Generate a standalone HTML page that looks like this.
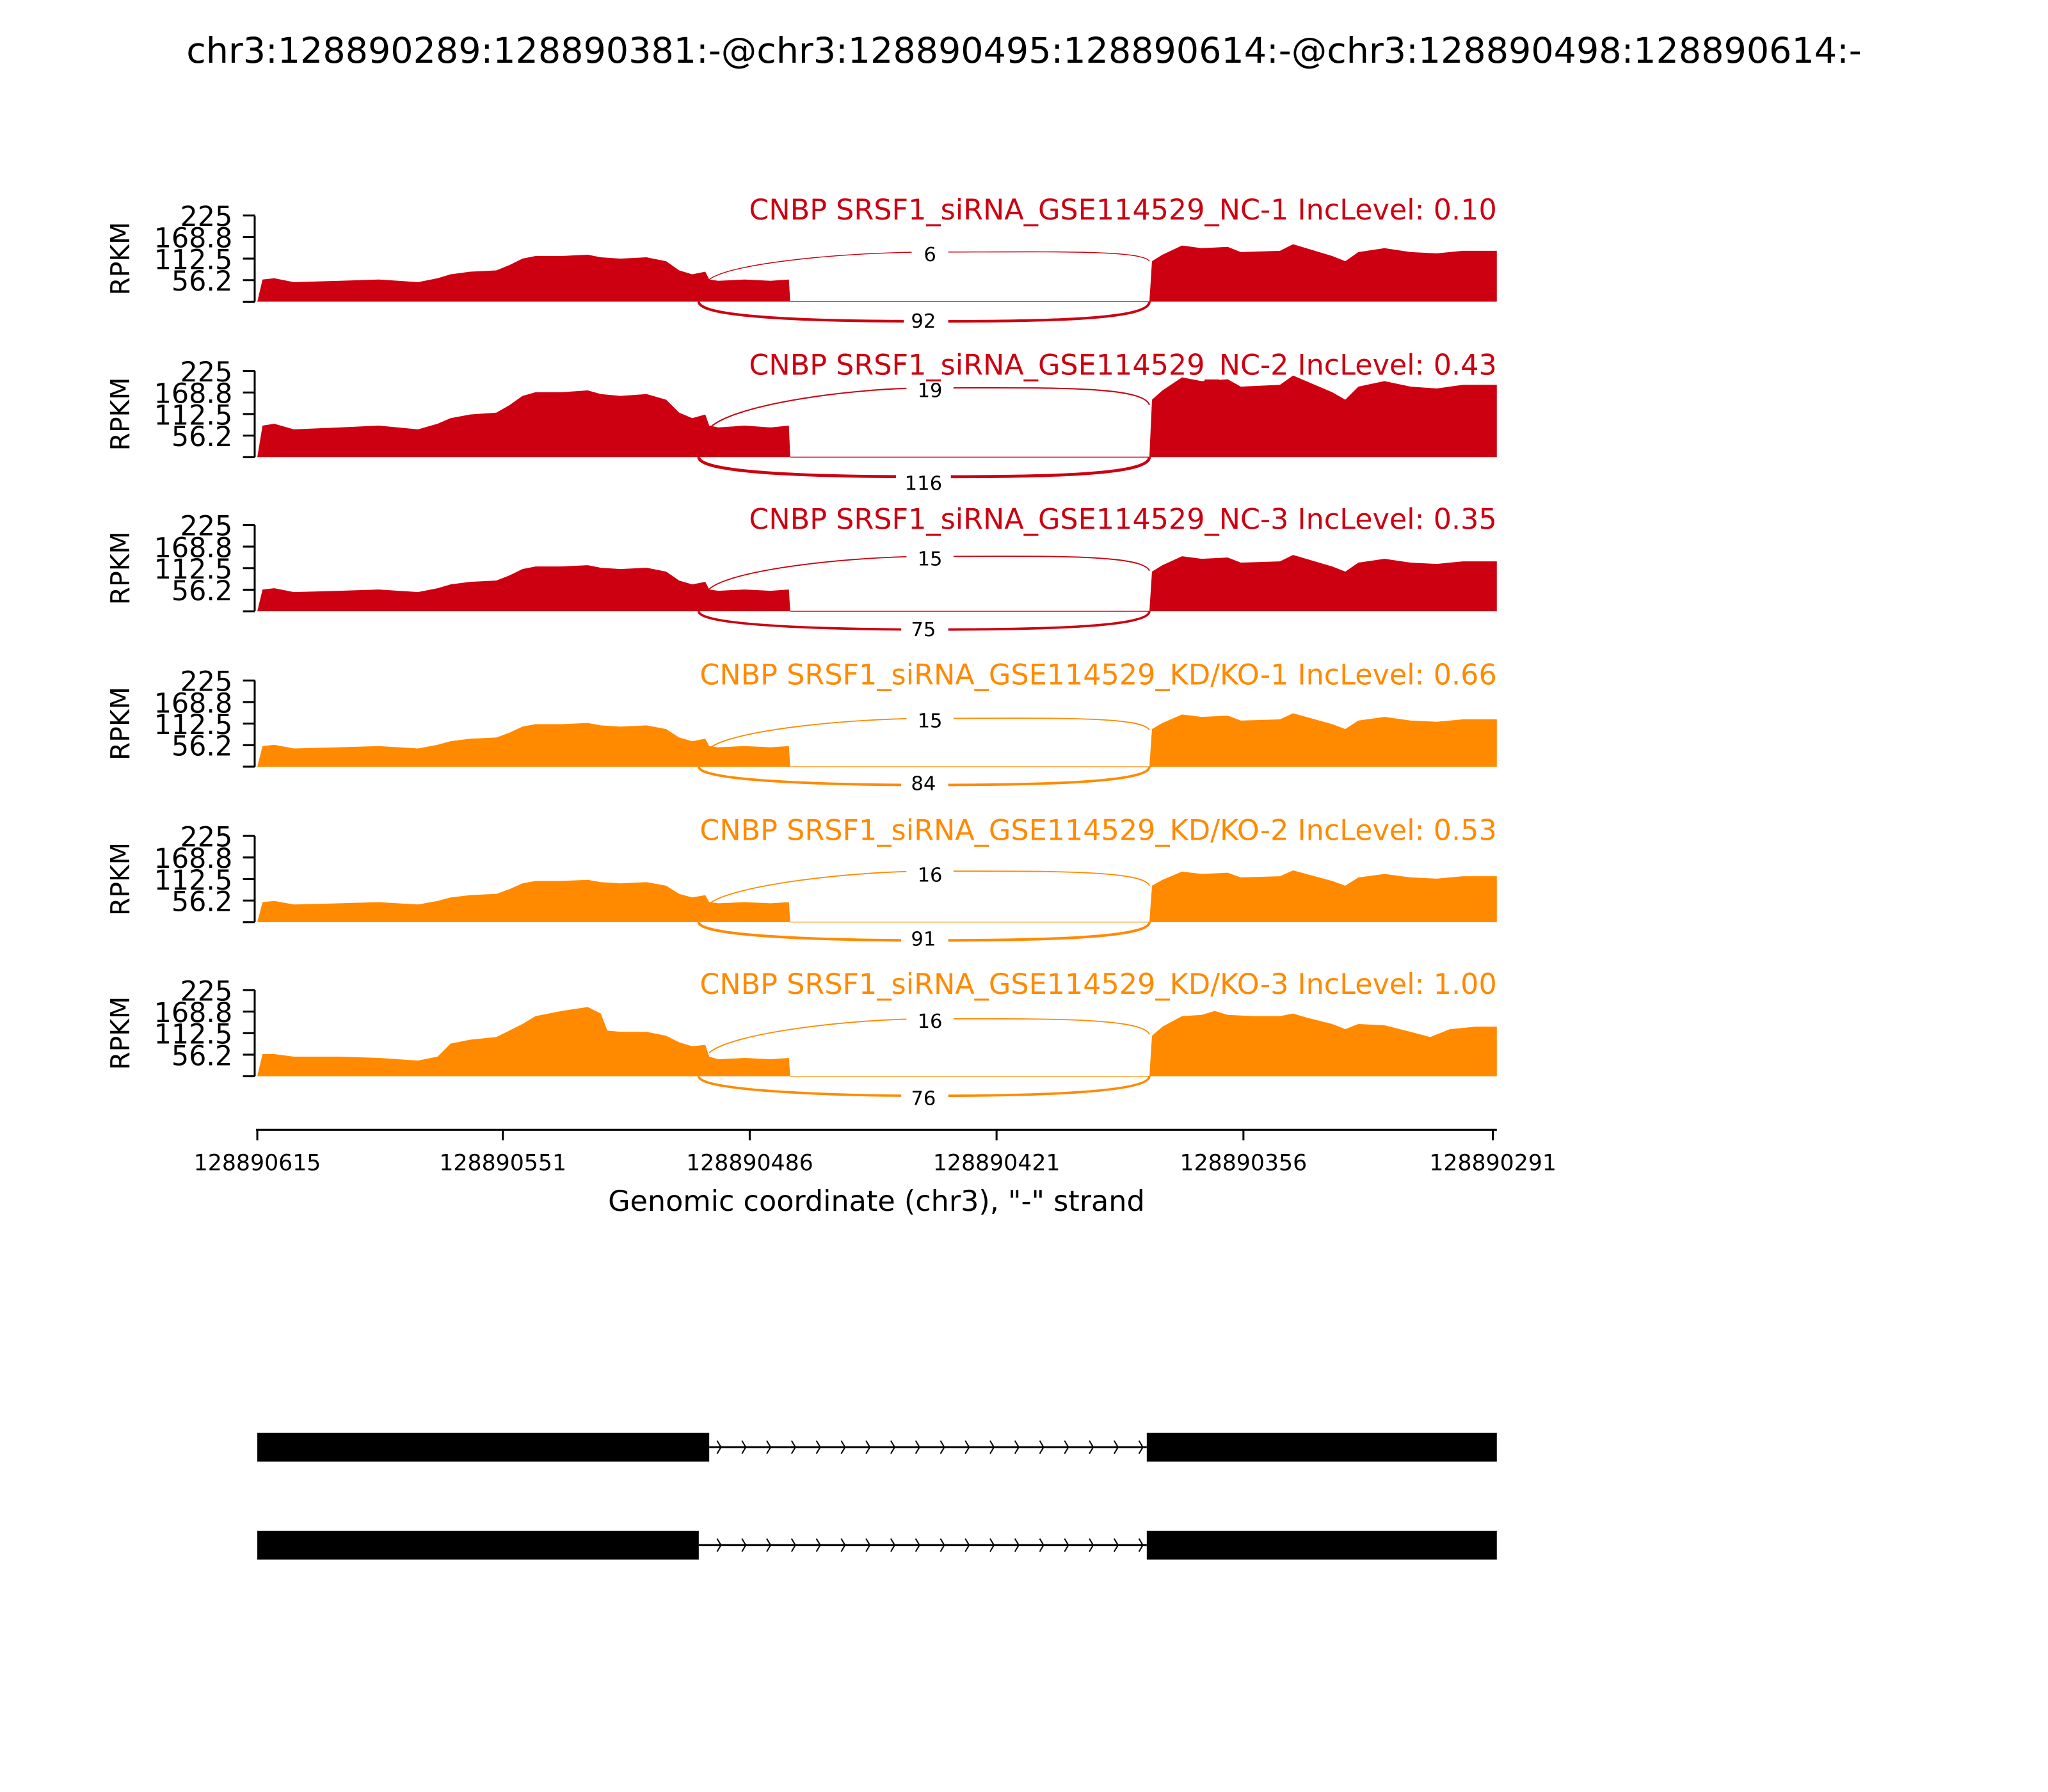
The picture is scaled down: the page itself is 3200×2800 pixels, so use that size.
<!DOCTYPE html>
<html><head><meta charset="utf-8"><style>html,body{margin:0;padding:0;background:#fff}svg{display:block}</style></head>
<body>
<svg xmlns="http://www.w3.org/2000/svg" width="3200" height="2800" viewBox="0 0 1568 1372" preserveAspectRatio="none" font-family="'DejaVu Sans','Liberation Sans',sans-serif">
<defs>
<path id="cov" d="M197,0 L201,-17 L210,-18 L225,-15 L260,-16 L290,-17 L320,-15 L335,-18 L345,-21 L360,-23 L380,-24 L390,-28 L400,-33 L410,-35 L430,-35 L450,-36 L460,-34 L475,-33 L495,-34 L510,-31 L520,-24 L530,-21 L540,-23 L543,-17 L550,-16 L570,-17 L590,-16 L604,-17 L605,0 Z M880,0 L882,-31 L890,-36 L905,-43 L920,-41 L940,-42 L950,-38 L980,-39 L990,-44 L1000,-41 L1020,-35 L1030,-31 L1040,-38 L1060,-41 L1080,-38 L1100,-37 L1120,-39 L1146,-39 L1146,0 Z"/>
<path id="cov6" d="M197,0 L201,-17 L210,-17 L225,-15 L260,-15 L290,-14 L320,-12 L335,-15 L345,-25 L360,-28 L380,-30 L390,-35 L400,-40 L410,-46 L430,-50 L450,-53 L460,-48 L465,-35 L475,-34 L495,-34 L510,-31 L520,-26 L530,-23 L540,-24 L543,-15 L550,-13 L570,-14 L590,-13 L604,-14 L605,0 Z M880,0 L882,-31 L890,-38 L905,-46 L920,-47 L930,-50 L940,-47 L960,-46 L980,-46 L990,-48 L1000,-45 L1020,-40 L1030,-36 L1040,-40 L1060,-39 L1080,-34 L1095,-30 L1110,-36 L1130,-38 L1146,-38 L1146,0 Z"/>
<g id="yax">
<path d="M195,-66 L195,0 M186,-66 L195,-66 M186,-49.5 L195,-49.5 M186,-33 L195,-33 M186,-16.5 L195,-16.5 M186,0 L195,0" stroke="#000" stroke-width="1.5" fill="none"/>
<g font-size="21" text-anchor="end">
<text x="178" y="-58">225</text><text x="178" y="-41.5">168.8</text><text x="178" y="-25">112.5</text><text x="178" y="-8.5">56.2</text>
</g>
<text transform="translate(99,-33) rotate(-90)" text-anchor="middle" font-size="20">RPKM</text>
</g>
</defs>
<text x="784" y="48" font-size="27.2" text-anchor="middle">chr3:128890289:128890381:-@chr3:128890495:128890614:-@chr3:128890498:128890614:-</text>

<g font-size="15">
<g transform="translate(0,231)">
<use href="#yax"/>
<use href="#cov" fill="#cc0011"/>
<line x1="605" y1="0" x2="880" y2="0" stroke="#cc0011" stroke-width="0.6"/>
<path d="M543,-17 C560,-30 650,-38 712,-38 C800,-38 875,-40 880,-31" fill="none" stroke="#cc0011" stroke-width="0.7"/>
<path d="M535,0 C535,14 650,15 712,15 C800,15 880,14 880,0" fill="none" stroke="#cc0011" stroke-width="2"/>
<rect x="698" y="-46" width="28" height="18" fill="#fff"/><text x="712" y="-31" font-size="15" text-anchor="middle">6</text>
<rect x="692" y="6" width="34" height="18" fill="#fff"/><text x="707" y="20" font-size="15" text-anchor="middle">92</text>
<text x="1146" y="-63" text-anchor="end" fill="#cc0011" font-size="21.8">CNBP SRSF1_siRNA_GSE114529_NC-1 IncLevel: 0.10</text>
</g>
<g transform="translate(0,350)">
<use href="#yax"/>
<use href="#cov" fill="#cc0011" transform="scale(1,1.42)"/>
<line x1="605" y1="0" x2="880" y2="0" stroke="#cc0011" stroke-width="0.6"/>
<path d="M543,-22 C560,-40 650,-53 712,-53 C800,-53 875,-55 880,-40" fill="none" stroke="#cc0011" stroke-width="1"/>
<path d="M535,0 C535,14 650,15 712,15 C800,15 880,14 880,0" fill="none" stroke="#cc0011" stroke-width="2.3"/>
<rect x="694" y="-60" width="36" height="18" fill="#fff"/><text x="712" y="-46" font-size="15" text-anchor="middle">19</text>
<rect x="686" y="10" width="42" height="18" fill="#fff"/><text x="707" y="25" font-size="15" text-anchor="middle">116</text>
<text x="1146" y="-63" text-anchor="end" fill="#cc0011" font-size="21.8">CNBP SRSF1_siRNA_GSE114529_NC-2 IncLevel: 0.43</text>
</g>
<g transform="translate(0,468)">
<use href="#yax"/>
<use href="#cov" fill="#cc0011" transform="scale(1,0.98)"/>
<line x1="605" y1="0" x2="880" y2="0" stroke="#cc0011" stroke-width="0.6"/>
<path d="M543,-17 C560,-32 650,-42 712,-42 C800,-42 875,-44 880,-31" fill="none" stroke="#cc0011" stroke-width="0.9"/>
<path d="M535,0 C535,12 650,14 712,14 C800,14 880,12 880,0" fill="none" stroke="#cc0011" stroke-width="1.8"/>
<rect x="694" y="-49" width="36" height="18" fill="#fff"/><text x="712" y="-35" font-size="15" text-anchor="middle">15</text>
<rect x="690" y="5" width="36" height="18" fill="#fff"/><text x="707" y="19" font-size="15" text-anchor="middle">75</text>
<text x="1146" y="-63" text-anchor="end" fill="#cc0011" font-size="21.8">CNBP SRSF1_siRNA_GSE114529_NC-3 IncLevel: 0.35</text>
</g>
<g transform="translate(0,587)">
<use href="#yax"/>
<use href="#cov" fill="#ff8a00" transform="scale(1,0.93)"/>
<line x1="605" y1="0" x2="880" y2="0" stroke="#ff8a00" stroke-width="0.6"/>
<path d="M543,-14 C560,-28 650,-37 712,-37 C800,-37 875,-39 880,-28" fill="none" stroke="#ff8a00" stroke-width="0.9"/>
<path d="M535,0 C535,12 650,14 712,14 C800,14 880,12 880,0" fill="none" stroke="#ff8a00" stroke-width="1.9"/>
<rect x="694" y="-44" width="36" height="18" fill="#fff"/><text x="712" y="-30" font-size="15" text-anchor="middle">15</text>
<rect x="690" y="5" width="36" height="18" fill="#fff"/><text x="707" y="18" font-size="15" text-anchor="middle">84</text>
<text x="1146" y="-63" text-anchor="end" fill="#ff8a00" font-size="21.8">CNBP SRSF1_siRNA_GSE114529_KD/KO-1 IncLevel: 0.66</text>
</g>
<g transform="translate(0,706)">
<use href="#yax"/>
<use href="#cov" fill="#ff8a00" transform="scale(1,0.9)"/>
<line x1="605" y1="0" x2="880" y2="0" stroke="#ff8a00" stroke-width="0.6"/>
<path d="M543,-14 C560,-28 650,-39 712,-39 C800,-39 875,-40 880,-28" fill="none" stroke="#ff8a00" stroke-width="0.9"/>
<path d="M535,0 C535,12 650,14 712,14 C800,14 880,12 880,0" fill="none" stroke="#ff8a00" stroke-width="2"/>
<rect x="694" y="-46" width="36" height="18" fill="#fff"/><text x="712" y="-31" font-size="15" text-anchor="middle">16</text>
<rect x="690" y="5" width="36" height="18" fill="#fff"/><text x="707" y="18" font-size="15" text-anchor="middle">91</text>
<text x="1146" y="-63" text-anchor="end" fill="#ff8a00" font-size="21.8">CNBP SRSF1_siRNA_GSE114529_KD/KO-2 IncLevel: 0.53</text>
</g>
<g transform="translate(0,824)">
<use href="#yax"/>
<use href="#cov6" fill="#ff8a00"/>
<line x1="605" y1="0" x2="880" y2="0" stroke="#ff8a00" stroke-width="0.6"/>
<path d="M543,-18 C560,-33 650,-44 712,-44 C800,-44 875,-45 880,-32" fill="none" stroke="#ff8a00" stroke-width="0.9"/>
<path d="M535,0 C535,12 650,15 712,15 C800,15 880,12 880,0" fill="none" stroke="#ff8a00" stroke-width="1.8"/>
<rect x="694" y="-51" width="36" height="18" fill="#fff"/><text x="712" y="-37" font-size="15" text-anchor="middle">16</text>
<rect x="690" y="7" width="36" height="18" fill="#fff"/><text x="707" y="22" font-size="15" text-anchor="middle">76</text>
<text x="1146" y="-63" text-anchor="end" fill="#ff8a00" font-size="21.8">CNBP SRSF1_siRNA_GSE114529_KD/KO-3 IncLevel: 1.00</text>
</g>
</g>

<g stroke="#000" stroke-width="1.5">
<line x1="196" y1="865" x2="1146" y2="865"/>
<line x1="197" y1="865" x2="197" y2="873"/><line x1="385" y1="865" x2="385" y2="873"/><line x1="574" y1="865" x2="574" y2="873"/><line x1="763" y1="865" x2="763" y2="873"/><line x1="952" y1="865" x2="952" y2="873"/><line x1="1143" y1="865" x2="1143" y2="873"/>
</g>
<g font-size="17" text-anchor="middle">
<text x="197" y="896">128890615</text><text x="385" y="896">128890551</text><text x="574" y="896">128890486</text><text x="763" y="896">128890421</text><text x="952" y="896">128890356</text><text x="1143" y="896">128890291</text>
</g>
<text x="671" y="927" font-size="21.8" text-anchor="middle">Genomic coordinate (chr3), "-" strand</text>

<rect x="197" y="1097" width="346" height="22" fill="#000"/>
<rect x="878" y="1097" width="268" height="22" fill="#000"/>
<line x1="543" y1="1108" x2="878" y2="1108" stroke="#000" stroke-width="1.5"/>
<rect x="197" y="1172" width="338" height="22" fill="#000"/>
<rect x="878" y="1172" width="268" height="22" fill="#000"/>
<line x1="535" y1="1183" x2="878" y2="1183" stroke="#000" stroke-width="1.5"/>
<g fill="none" stroke="#000" stroke-width="1">
<path d="M549,1103 l3,5 l-3,5 M568,1103 l3,5 l-3,5 M587,1103 l3,5 l-3,5 M606,1103 l3,5 l-3,5 M625,1103 l3,5 l-3,5 M644,1103 l3,5 l-3,5 M663,1103 l3,5 l-3,5 M682,1103 l3,5 l-3,5 M701,1103 l3,5 l-3,5 M720,1103 l3,5 l-3,5 M739,1103 l3,5 l-3,5 M758,1103 l3,5 l-3,5 M777,1103 l3,5 l-3,5 M796,1103 l3,5 l-3,5 M815,1103 l3,5 l-3,5 M834,1103 l3,5 l-3,5 M853,1103 l3,5 l-3,5 M872,1103 l3,5 l-3,5"/>
<path d="M549,1178 l3,5 l-3,5 M568,1178 l3,5 l-3,5 M587,1178 l3,5 l-3,5 M606,1178 l3,5 l-3,5 M625,1178 l3,5 l-3,5 M644,1178 l3,5 l-3,5 M663,1178 l3,5 l-3,5 M682,1178 l3,5 l-3,5 M701,1178 l3,5 l-3,5 M720,1178 l3,5 l-3,5 M739,1178 l3,5 l-3,5 M758,1178 l3,5 l-3,5 M777,1178 l3,5 l-3,5 M796,1178 l3,5 l-3,5 M815,1178 l3,5 l-3,5 M834,1178 l3,5 l-3,5 M853,1178 l3,5 l-3,5 M872,1178 l3,5 l-3,5"/>
</g>
</svg>
</body></html>
